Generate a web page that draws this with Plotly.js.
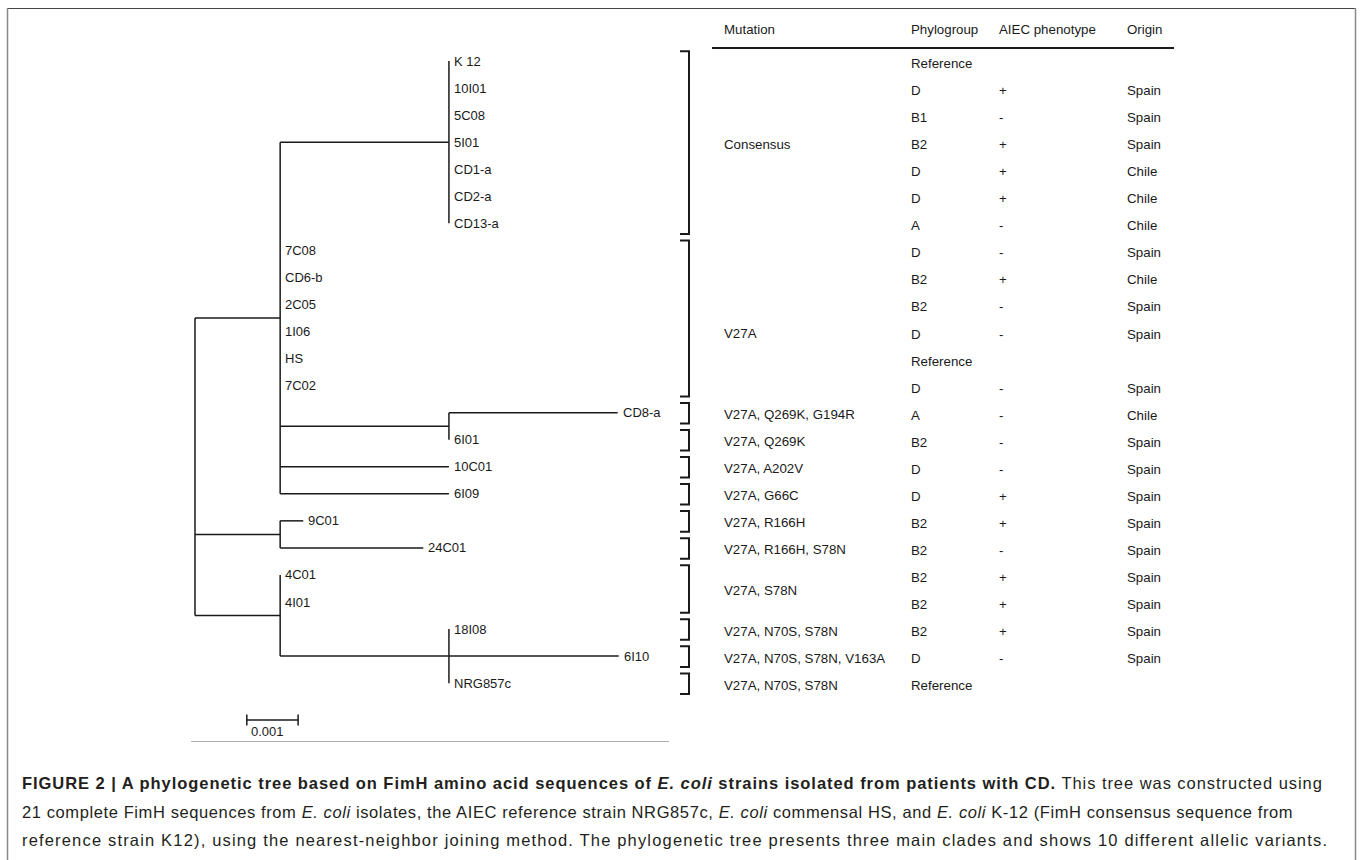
<!DOCTYPE html>
<html><head><meta charset="utf-8">
<script src="https://cdn.plot.ly/plotly-3.0.1.min.js"></script>
<style>html,body{margin:0;padding:0;background:#fff}#chart{width:1360px;height:860px}</style>
</head><body><div id="chart"></div>
<script>
// ---------- DATA ----------
const tipNames = ['K 12','10I01','5C08','5I01','CD1-a','CD2-a','CD13-a','7C08','CD6-b','2C05','1I06','HS','7C02','CD8-a','6I01','10C01','6I09','9C01','24C01','4C01','4I01','18I08','6I10','NRG857c'];
const tipParent = ['Cons','Cons','Cons','Cons','Cons','Cons','Cons','A','A','A','A','A','A','CD8n','CD8n','A','A','B','B','C','C','N','N','N'];
const tipBranch = [0,0,0,0,0,0,0, 0,0,0,0,0,0, 0.00329,0, 0.00329,0.00329, 0.00045,0.00279, 0,0, 0,0.00331,0];
const nodeIds = ['root','A','Cons','CD8n','B','C','N'];
const nodeParent = [null,'root','A','A','root','root','C'];
const nodeBranch = [0,0.00166,0.00329,0.00329,0.00166,0.00166,0.00329];

const headers = ['Mutation','Phylogroup','AIEC phenotype','Origin'];
const mutationText = ['Consensus','V27A','V27A, Q269K, G194R','V27A, Q269K','V27A, A202V','V27A, G66C','V27A, R166H','V27A, R166H, S78N','V27A, S78N','V27A, N70S, S78N','V27A, N70S, S78N, V163A','V27A, N70S, S78N'];
const mutationFirst = [0,7,13,14,15,16,17,18,19,21,22,23];
const mutationLast  = [6,12,13,14,15,16,17,18,20,21,22,23];
const mutationLabelRow = [3,10,13,14,15,16,17,18,19.5,21,22,23];
const phylogroup = ['Reference','D','B1','B2','D','D','A','D','B2','B2','D','Reference','D','A','B2','D','D','B2','B2','B2','B2','B2','D','Reference'];
const aiecPhenotype = ['','+','-','+','+','+','-','-','+','-','-','','-','-','-','-','+','+','-','+','+','+','-',''];
const origin = ['','Spain','Spain','Spain','Chile','Chile','Chile','Spain','Chile','Spain','Spain','','Spain','Chile','Spain','Spain','Spain','Spain','Spain','Spain','Spain','Spain','Spain',''];
const scaleBarLength = 0.001;
const scaleBarLabel = '0.001';
const captionLines = [
  '<b>FIGURE 2 | A phylogenetic tree based on FimH amino acid sequences of <i>E. coli</i> strains isolated from patients with CD.</b> This tree was constructed using',
  '21 complete FimH sequences from <i>E. coli</i> isolates, the AIEC reference strain NRG857c, <i>E. coli</i> commensal HS, and <i>E. coli</i> K-12 (FimH consensus sequence from',
  'reference strain K12), using the nearest-neighbor joining method. The phylogenetic tree presents three main clades and shows 10 different allelic variants.'
];

// ---------- LAYOUT CONSTANTS ----------
const W = 1360, H = 860;
const ROOT_PX = 195, PX_PER_UNIT = 51300;
const ROW0_PX = 61, ROW_PX = 27.05;
const FONT = 'Arial, "Liberation Sans", sans-serif';
const INK = '#1a1a1a';

// ---------- TREE GEOMETRY ----------
const nx = {}, ny = {};
const children = {};
nodeIds.forEach(n => children[n] = []);
nodeIds.forEach((n, i) => { if (nodeParent[i]) children[nodeParent[i]].push({type:'node', id:n}); });
tipNames.forEach((t, i) => children[tipParent[i]].push({type:'tip', idx:i}));
function depth(id){ const i = nodeIds.indexOf(id); return nodeParent[i] ? depth(nodeParent[i]) + nodeBranch[i] : 0; }
nodeIds.forEach(n => nx[n] = depth(n));
const tipX = tipNames.map((t,i) => nx[tipParent[i]] + tipBranch[i]);
function nodeY(id){
  const ys = children[id].map(c => c.type === 'tip' ? c.idx : nodeY(c.id));
  ny[id] = (Math.min(...ys) + Math.max(...ys)) / 2;
  ny[id+'_min'] = Math.min(...ys); ny[id+'_max'] = Math.max(...ys);
  return ny[id];
}
nodeY('root');

const lx = [], ly = [];
function seg(x0,y0,x1,y1){ lx.push(x0,x1,null); ly.push(y0,y1,null); }
nodeIds.forEach((n,i) => {
  seg(nx[n], ny[n+'_min'], nx[n], ny[n+'_max']);
  if (nodeParent[i]) seg(nx[nodeParent[i]], ny[n], nx[n], ny[n]);
});
tipNames.forEach((t,i) => { if (tipBranch[i] > 0) seg(nx[tipParent[i]], i, tipX[i], i); });

const traces = [{
  x: lx, y: ly, type: 'scatter', mode: 'lines',
  line: {color: INK, width: 1.5}, hoverinfo: 'skip', connectgaps: false
}];

// scale bar
const sbX0 = 0.00101, sbRow = (720 - ROW0_PX) / ROW_PX;
traces.push({
  x: [sbX0, sbX0 + scaleBarLength], y: [sbRow, sbRow], type: 'scatter', mode: 'lines+markers',
  line: {color: INK, width: 1.5},
  marker: {symbol: 'line-ns-open', size: 8, line: {color: INK, width: 1.5}}, hoverinfo: 'skip'
});

const annotations = [];
const txt = (o, size) => Object.assign({showarrow:false, align:'left', font:{family:FONT, size:size || 13, color:INK}}, o);

tipNames.forEach((t,i) => annotations.push(txt({
  x: tipX[i], y: i, xref:'x', yref:'y', text: t, xanchor:'left', yanchor:'middle', xshift: 3
})));
annotations.push(txt({x: sbX0, y: sbRow, xref:'x', yref:'y', text: scaleBarLabel, xanchor:'left', yanchor:'top', xshift: 2, yshift: -2}));

// table
const TS = 13.3;
const colPx = [722, 909, 997, 1125];
headers.forEach((h,k) => annotations.push(txt({
  x: colPx[k]/W, y: 1 - 30/H, xref:'paper', yref:'paper', text:h, xanchor:'left', yanchor:'middle'
}, TS)));
const cols = [phylogroup, aiecPhenotype, origin];
cols.forEach((arr,k) => arr.forEach((v,i) => { if (v) annotations.push(txt({
  x: colPx[k+1]/W, y: i, xref:'paper', yref:'y', text: v, xanchor:'left', yanchor:'middle', yshift: -2.5
}, TS));}));
mutationText.forEach((m,g) => annotations.push(txt({
  x: colPx[0]/W, y: mutationLabelRow[g], xref:'paper', yref:'y', text: m, xanchor:'left', yanchor:'middle', yshift: -2
}, TS)));

// caption
const capY = [783, 812, 840];
const capSpacing = [0.95, 0.6, 1.17];
const capStart = annotations.length;
captionLines.forEach((c,k) => annotations.push({
  x: 20/W, y: 1 - capY[k]/H, xref:'paper', yref:'paper', text: c, xanchor:'left', yanchor:'middle', align:'left',
  showarrow:false, font:{family: FONT, size: 16.5, color:'#231f20'}
}));
const st = document.createElement('style');
st.textContent = capSpacing.map((s,k) => `#chart .annotation[data-index="${capStart+k}"] text{letter-spacing:${s}px}`).join('\n');
document.head.appendChild(st);

// shapes
const shapes = [];
// brackets
mutationFirst.forEach((f,g) => {
  const l = mutationLast[g];
  const y0 = f - 0.36, y1 = l + 0.4;
  const xb = 689/W, xh = 680/W;
  shapes.push({type:'path', xref:'paper', yref:'y',
    path: `M ${xh} ${y0} L ${xb} ${y0} L ${xb} ${y1} L ${xh} ${y1}`,
    line:{color: INK, width: 2}});
});
// header rule
shapes.push({type:'line', xref:'paper', yref:'paper', x0:712/W, x1:1174/W, y0:1-48/H, y1:1-48/H, line:{color:INK, width:2}});
// separator
shapes.push({type:'line', xref:'paper', yref:'paper', x0:191/W, x1:669/W, y0:1-741.5/H, y1:1-741.5/H, line:{color:'#b0b0b0', width:1}});
// frame
shapes.push({type:'line', xref:'paper', yref:'paper', x0:7/W, x1:1356/W, y0:1-8.5/H, y1:1-8.5/H, line:{color:'#444', width:1.2}});
shapes.push({type:'line', xref:'paper', yref:'paper', x0:7.5/W, x1:7.5/W, y0:0, y1:1-8/H, line:{color:'#888', width:1.5}});
shapes.push({type:'line', xref:'paper', yref:'paper', x0:1355.5/W, x1:1355.5/W, y0:0, y1:1-8/H, line:{color:'#888', width:1.5}});

const layout = {
  width: W, height: H, margin: {l:0, r:0, t:0, b:0},
  paper_bgcolor:'#fff', plot_bgcolor:'#fff', showlegend:false, hovermode:false,
  xaxis: {range: [-ROOT_PX/PX_PER_UNIT, (W-ROOT_PX)/PX_PER_UNIT], visible:false, fixedrange:true},
  yaxis: {range: [(H-ROW0_PX)/ROW_PX, -ROW0_PX/ROW_PX], visible:false, fixedrange:true},
  annotations, shapes
};
Plotly.newPlot('chart', traces, layout, {staticPlot:true, displayModeBar:false});
</script></body></html>
